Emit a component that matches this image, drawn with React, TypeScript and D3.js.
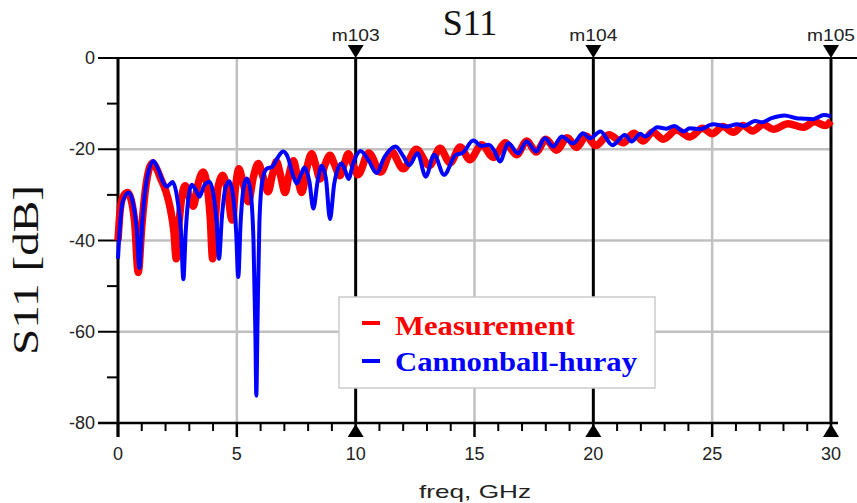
import React from "react";
import * as d3 from "d3";

const measFreq = [0.0,0.08,0.2,0.4,0.55,0.7,0.85,1.0,1.15,1.3,1.45,1.6,1.8,2.0,2.2,2.35,2.45,2.57,2.7,2.83,3.0,3.17,3.35,3.58,3.75,3.88,3.98,4.1,4.22,4.4,4.6,4.8,4.95,5.08,5.25,5.48,5.7,5.9,6.1,6.32,6.5,6.67,6.85,7.03,7.2,7.38,7.55,7.73,7.95,8.15,8.32,8.5,8.7,8.92,9.12,9.34,9.5,9.69,9.9,10.1,10.55,11.05,11.5,12.0,12.55,13.1,13.55,13.97,14.4,14.8,15.3,15.79,16.3,16.77,17.2,17.6,18.0,18.45,18.9,19.3,19.7,20.1,20.65,21.26,21.7,22.1,22.5,22.94,23.5,24.06,24.6,25.0,25.45,25.89,26.3,26.7,27.15,27.57,28.2,28.83,29.3,29.75,30.0];
const measDb = [-40,-34,-30.5,-29.5,-31,-36,-47,-37,-29,-24.5,-23,-24,-26.5,-29,-33,-38,-44,-36,-30,-28,-30.5,-32.5,-28,-25,-28,-35,-44,-35,-28,-25.7,-29,-35.5,-28,-24.3,-27,-31.5,-26,-23.1,-26,-29.3,-25.5,-22.7,-26,-29.5,-25.5,-22.5,-26,-29.5,-24,-21,-23.5,-26.5,-23.5,-21.3,-23.5,-25.8,-23.5,-21,-23.5,-25.6,-20.8,-25.0,-20.5,-24.3,-20.0,-23.6,-19.8,-23.0,-19.5,-22.3,-19.0,-21.8,-18.6,-21.2,-18.2,-20.6,-17.8,-20.2,-17.5,-19.6,-17.1,-19.2,-16.8,-18.6,-16.5,-18.2,-16.2,-17.8,-15.8,-17.3,-15.4,-16.6,-15.0,-16.3,-14.8,-16.0,-14.6,-15.6,-14.4,-15.2,-14.0,-14.8,-13.8];

const modelFreq = [0.0,0.08,0.2,0.45,0.62,0.78,0.9,1.02,1.2,1.49,1.7,1.9,2.05,2.3,2.5,2.65,2.75,2.85,2.98,3.1,3.28,3.43,3.62,3.85,4.02,4.15,4.25,4.37,4.52,4.68,4.85,4.97,5.06,5.16,5.3,5.42,5.57,5.7,5.78,5.82,5.87,5.95,6.07,6.25,6.5,6.7,6.95,7.15,7.35,7.52,7.7,7.85,8.05,8.22,8.4,8.57,8.75,8.92,9.1,9.4,9.55,9.7,9.9,10.2,10.55,10.88,11.2,11.68,12.0,12.26,12.6,12.95,13.3,13.72,14.2,14.5,14.95,15.3,15.6,15.85,16.07,16.42,16.84,17.19,17.6,17.96,18.31,18.67,19.15,19.57,19.86,20.3,20.8,21.33,21.61,21.98,22.17,22.7,23.08,23.4,23.8,24.06,24.48,25.04,25.6,26.05,26.35,26.8,27.1,27.5,28.05,28.55,28.85,29.25,29.7,30.0];
const modelDb = [-44,-37,-31.5,-29.5,-31.5,-37,-46,-36,-27,-22.6,-24.5,-27.2,-28.2,-27.2,-31,-38,-48.5,-38,-30,-27.8,-29,-30.4,-28,-27.1,-30,-36,-44,-35,-28.5,-27,-30.5,-38,-48,-36,-28,-26.4,-29,-40,-60,-74,-58,-36,-27,-24.3,-23.8,-22,-20.5,-21.8,-25.5,-27.5,-25.5,-24,-27,-33,-27,-23.6,-26.5,-35.3,-27.5,-23.1,-24.5,-26.5,-23,-20.4,-22.5,-25.2,-21.8,-19.4,-21.5,-23.5,-20.9,-26,-21.2,-25.6,-21.3,-20.8,-18.1,-19.3,-19,-20.5,-22.7,-18.7,-20.9,-18.3,-20.5,-17.6,-19.4,-17.2,-18.7,-16.5,-17.6,-16.1,-19.1,-16.9,-18.3,-16.6,-17.2,-15.2,-15.5,-14.9,-16.1,-15.4,-15.6,-14.5,-15,-14.5,-14.9,-13.8,-14.1,-13.2,-12.6,-13.2,-13.3,-13.4,-12.5,-12.8];

const xTicks = [0, 5, 10, 15, 20, 25, 30];
const yTicks = [0, -20, -40, -60, -80];
const markerFreqs = [10, 20, 30];
const markerNames = ["m103", "m104", "m105"];
const seriesNames = ["Measurement", "Cannonball-huray"];

export default function App() {
  const W = 857, H = 503;
  const x = d3.scaleLinear().domain([0, 30]).range([118, 831]);
  const y = d3.scaleLinear().domain([-80, 0]).range([423, 58]);
  const line = d3
    .line<[number, number]>()
    .x((d) => x(d[0]))
    .y((d) => y(d[1]))
    .curve(d3.curveMonotoneX);
  const meas = measFreq.map((f, i) => [f, measDb[i]] as [number, number]);
  const model = modelFreq.map((f, i) => [f, modelDb[i]] as [number, number]);
  const minorX = d3.range(0, 31, 1);
  const minorY = d3.range(-70, 0, 20);
  const grey = "#c0c0c0";
  const sans = "'Liberation Sans', Arial, sans-serif";
  const serif = "'Liberation Serif', 'Times New Roman', serif";

  return (
    <svg width={W} height={H} style={{ position: "absolute", left: 0, top: 0, background: "#fff" }}>
      {[5, 15, 25].map((v) => (
        <line key={"gx" + v} x1={x(v)} x2={x(v)} y1={y(0)} y2={y(-80)} stroke={grey} strokeWidth={2.5} />
      ))}
      {[-20, -40, -60].map((v) => (
        <line key={"gy" + v} x1={x(0)} x2={x(30)} y1={y(v)} y2={y(v)} stroke={grey} strokeWidth={2.5} />
      ))}
      {markerFreqs.map((v) => (
        <line key={"m" + v} x1={x(v)} x2={x(v)} y1={y(0)} y2={y(-80)} stroke="#000" strokeWidth={3} />
      ))}
      <line x1={x(0)} x2={x(0)} y1={y(0)} y2={y(-80) + 14} stroke="#000" strokeWidth={3} />
      <line x1={98} x2={W} y1={y(0)} y2={y(0)} stroke="#000" strokeWidth={2} />
      <line x1={98} x2={838} y1={y(-80)} y2={y(-80)} stroke="#000" strokeWidth={2.5} />
      {yTicks.map((v) => (
        <g key={"yt" + v}>
          <line x1={98} x2={x(0)} y1={y(v)} y2={y(v)} stroke="#000" strokeWidth={2} />
          <text x={95} y={y(v) + 6} textAnchor="end" fontFamily={sans} fontSize={18} fill="#222">{v}</text>
        </g>
      ))}
      {minorY.map((v) => (
        <line key={"ym" + v} x1={107} x2={x(0)} y1={y(v)} y2={y(v)} stroke="#000" strokeWidth={2} />
      ))}
      {minorX.map((v) => (
        <line key={"xm" + v} x1={x(v)} x2={x(v)} y1={y(-80)} y2={y(-80) + (v % 5 === 0 ? 14 : 8)} stroke="#000" strokeWidth={v % 5 === 0 ? 2.5 : 2} />
      ))}
      {xTicks.map((v) => (
        <text key={"xt" + v} x={x(v)} y={460} textAnchor="middle" fontFamily={sans} fontSize={18} fill="#222">{v}</text>
      ))}
      {markerFreqs.map((v, i) => (
        <g key={"mk" + v}>
          <path d={`M${x(v) - 8},${y(0) - 13} L${x(v) + 8},${y(0) - 13} L${x(v)},${y(0)} Z`} fill="#000" />
          <path d={`M${x(v) - 8},${y(-80) + 14} L${x(v) + 8},${y(-80) + 14} L${x(v)},${y(-80) + 1} Z`} fill="#000" />
          <text x={x(v)} y={41} textAnchor="middle" fontFamily={sans} fontSize={17} fill="#222" textLength={48} lengthAdjust="spacingAndGlyphs">{markerNames[i]}</text>
        </g>
      ))}
      <path d={line(meas) || ""} fill="none" stroke="#ff0000" strokeWidth={7.5} strokeLinejoin="round" />
      <path d={line(model) || ""} fill="none" stroke="#0000ff" strokeWidth={4} strokeLinejoin="round" />
      <rect x={339} y={297} width={316} height={91} fill="#fff" stroke="#cccccc" strokeWidth={1.5} />
      <line x1={362} x2={380} y1={323} y2={323} stroke="#ff0000" strokeWidth={4} />
      <text x={395} y={335} fontFamily={serif} fontWeight="bold" fontSize={27} fill="#ff0000" textLength={180} lengthAdjust="spacingAndGlyphs">{seriesNames[0]}</text>
      <line x1={362} x2={380} y1={361} y2={361} stroke="#0000ff" strokeWidth={4} />
      <text x={395} y={371} fontFamily={serif} fontWeight="bold" fontSize={27} fill="#0000ff" textLength={242} lengthAdjust="spacingAndGlyphs">{seriesNames[1]}</text>
      <text x={470} y={35} textAnchor="middle" fontFamily={serif} fontSize={36} fill="#111">S11</text>
      <text transform="translate(38,270) rotate(-90)" textAnchor="middle" fontFamily={serif} fontSize={36} fill="#111" textLength={170} lengthAdjust="spacingAndGlyphs">S11 [dB]</text>
      <text x={475} y={498} textAnchor="middle" fontFamily={sans} fontSize={19} fill="#222" textLength={112} lengthAdjust="spacingAndGlyphs">freq, GHz</text>
    </svg>
  );
}
